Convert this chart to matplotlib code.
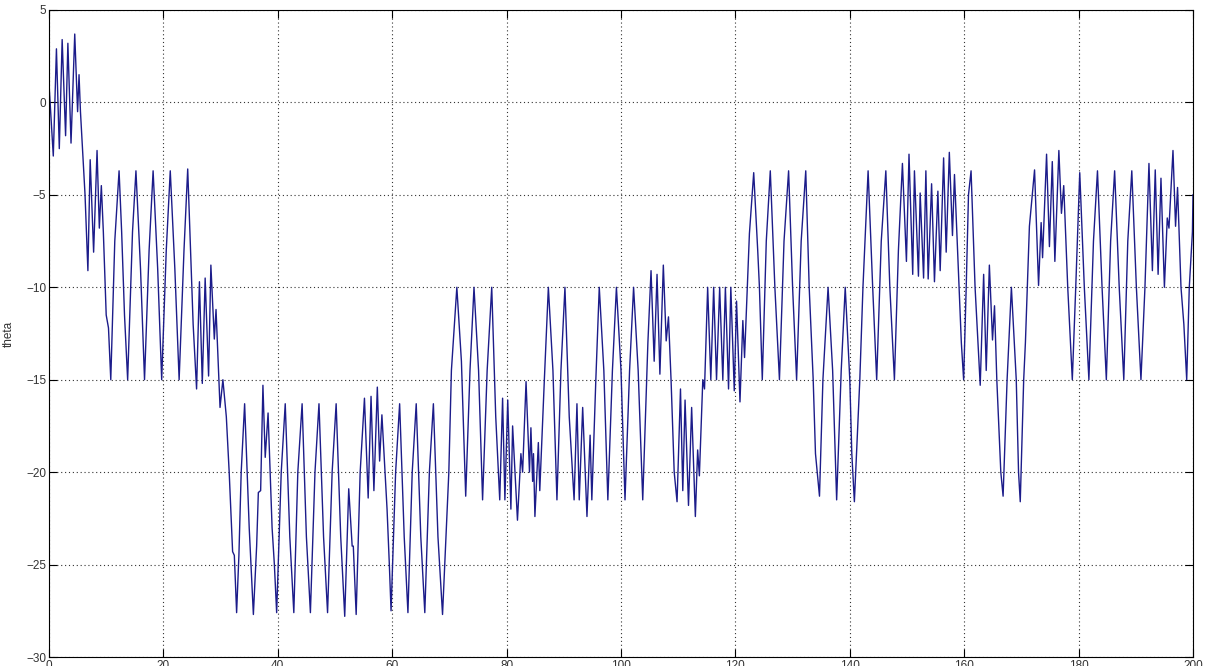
import matplotlib
matplotlib.use('Agg')
import matplotlib.pyplot as plt

# valores (vertices do sinal theta)
t = [0, 0.75, 1.3, 1.8, 2.3, 2.9, 3.3, 3.85, 4.5, 5.0, 5.25, 5.5, 6.3, 6.8, 7.2, 7.8, 8.4, 8.8, 9.15, 9.5,
     10.0, 10.4, 10.8, 11.5, 12.25, 12.7, 13.2, 13.75, 14.6, 15.2, 16.0, 16.7, 17.5, 18.2, 19.0, 19.7,
     20.5, 21.2, 22.0, 22.75, 23.6, 24.25, 25.2, 25.8, 26.3, 26.8, 27.3, 27.9, 28.3, 28.9, 29.2, 29.9,
     30.4, 31.0, 31.5, 32.1, 32.4, 32.8, 33.2, 33.6, 34.2,
     35.0, 35.73, 36.3, 36.6, 37.0, 37.4, 37.8, 38.3, 39.0, 39.4, 39.8, 40.6, 41.3, 42.1, 42.8, 43.5,
     44.25, 45.0, 45.7, 46.5, 47.2, 48.0, 48.7, 49.5, 50.2, 51.0, 51.7, 52.4, 53.0, 53.2, 53.7, 54.4,
     55.15, 55.8, 56.3, 56.8, 57.4, 57.8, 58.2, 59.1, 59.5, 59.8, 60.6, 61.3, 62.1, 62.75, 63.5, 64.2,
     65.0, 65.7, 66.5, 67.2, 68.0, 68.8, 69.9, 70.35, 71.3, 72.1, 72.85, 73.6, 74.3,
     75.1, 75.8, 76.6, 77.4, 78.1, 78.8, 79.3, 79.7, 80.2, 80.75, 81.05, 81.9, 82.5, 82.8, 83.4, 84.0,
     84.25, 84.55, 84.7, 84.95, 85.55, 85.8, 86.6, 87.3, 88.1, 88.8, 89.5, 90.2, 90.95, 91.8, 92.3,
     92.7, 93.3, 94.05, 94.6, 94.9, 95.6, 96.2, 97.0, 97.7, 98.5, 99.2, 100.0, 100.7, 101.5, 102.2,
     103.0, 103.8, 104.7, 105.25, 105.8, 106.3, 106.8, 107.4, 107.9, 108.3, 108.75, 109.3, 109.8,
     110.4, 110.8, 111.2, 111.8, 112.35, 113.0, 113.4, 113.7, 114.3, 114.6, 115.15, 115.7, 116.2,
     116.7, 117.25, 117.8, 118.25, 118.8, 119.2, 119.8, 120.2, 120.8, 121.3, 121.6, 122.45, 123.2,
     123.9, 124.2, 124.7, 125.4, 126.1, 126.9, 127.7, 128.5, 129.3, 130.0, 130.7, 131.5, 132.3, 132.9,
     133.6, 134.0, 134.7, 135.3, 136.2, 137.0, 137.7, 138.5, 139.2, 140.0, 140.35, 140.8, 141.75,
     142.3, 143.2, 144.0, 144.7, 145.5, 146.3, 147.0, 147.8, 148.5, 149.2, 149.9, 150.35, 151.0, 151.3,
     152.0, 152.3, 152.9, 153.3, 153.7, 154.3, 154.8, 155.4, 155.8, 156.4, 156.85, 157.4, 157.95,
     158.3, 159.1, 159.5, 159.9, 160.35, 160.75, 161.2, 161.9, 162.4, 162.8, 163.4, 163.85, 164.4,
     164.95, 165.3, 165.7, 166.4, 166.8, 167.5, 168.25, 169.1, 169.5, 169.8, 170.4, 170.7, 171.4,
     172.3, 173.0, 173.45, 173.7, 174.4, 174.9, 175.4, 175.85, 176.55, 177.0, 177.4, 178.1, 178.9,
     179.5, 180.2, 181.0, 181.8, 182.6, 183.3, 184.1, 184.85, 185.6, 186.3, 187.1, 187.9, 188.6, 189.3,
     190.1, 190.9, 191.6, 192.3, 192.9, 193.4, 193.9, 194.4, 195.0, 195.5, 195.8, 196.5, 196.95,
     197.3, 197.9, 198.4, 198.9, 199.35, 199.9, 200.0]

theta = [1.0, -2.9, 2.9, -2.5, 3.4, -1.8, 3.2, -2.2, 3.7, -0.5, 1.5, -0.5, -5, -9.1, -3.1, -8.1, -2.6, -6.8, -4.5, -7,
         -11.5, -12.2, -15, -7.5, -3.7, -7, -11.5, -15, -7, -3.7, -9, -15, -8, -3.7, -9, -15,
         -8, -3.7, -9, -15, -8, -3.6, -12, -15.5, -9.7, -15.2, -9.5, -14.8, -8.8, -12.8, -11.2, -16.5,
         -15, -17, -20, -24.3, -24.5, -27.6, -24.5, -20, -16.3,
         -23, -27.7, -24, -21.1, -21.0, -15.3, -19.2, -16.8, -23, -25, -27.6, -20, -16.3, -23.5, -27.6, -20,
         -16.3, -23.5, -27.6, -20, -16.3, -23.5, -27.6, -20, -16.3, -23.5, -27.8, -20.9, -24.0, -24, -27.7, -20,
         -16.0, -21.4, -15.9, -21.0, -15.4, -19.4, -16.9, -22, -25, -27.5, -20, -16.3, -23.5, -27.6, -20, -16.3,
         -23.5, -27.6, -20, -16.3, -23.5, -27.7, -20, -14.5, -10, -14, -21.3, -14.5, -10,
         -14.5, -21.5, -14.5, -10, -17, -21.5, -16, -21.5, -16.1, -22, -17.5, -22.6, -19, -20, -15.1, -20,
         -17.6, -20.5, -19, -22.4, -18.4, -21, -15, -10, -14.5, -21.5, -14.5, -10, -17, -21.5, -16.3,
         -21.5, -16.5, -22.4, -18, -21.5, -15, -10, -14.5, -21.5, -14.5, -10, -14.5, -21.5, -14.5, -10,
         -14.5, -21.5, -13, -9.1, -14, -9.3, -14.7, -8.8, -12.9, -11.6, -15, -20, -21.6,
         -15.5, -21, -16.1, -21.8, -16.5, -22.4, -18.8, -20.2, -15, -15.5, -10, -15, -10,
         -15, -10, -15, -10, -15.5, -10, -15.6, -10.75, -16.2, -11.8, -13.8, -7.1, -3.8,
         -8, -10, -15, -7.5, -3.7, -10, -15, -7.5, -3.7, -10, -15, -7.5, -3.7, -10,
         -15, -19, -21.3, -15, -10, -14.5, -21.5, -14.5, -10, -15, -19, -21.6, -15,
         -10, -3.7, -10, -15, -7.5, -3.7, -10, -15, -8, -3.3, -8.6, -2.8, -9.3, -3.7,
         -9.4, -4.9, -9.5, -3.7, -9.55, -4.4, -9.7, -4.8, -9.1, -3.0, -8.1, -2.7, -7.2,
         -3.9, -10, -13, -15, -10, -5, -3.7, -10, -13, -15.3, -9.3, -14.5, -8.8,
         -12.85, -11, -15, -20, -21.3, -15, -10, -15, -20, -21.6, -15, -13, -6.7,
         -3.65, -9.9, -6.5, -8.4, -2.8, -7.8, -3.2, -8.6, -2.6, -6, -4.5, -10, -15,
         -10, -3.8, -10, -15, -7.5, -3.7, -10, -15, -7.5, -3.7, -10, -15, -7.5, -3.7,
         -10, -15, -10, -3.3, -9.1, -3.65, -9.3, -4.1, -10, -6.25, -6.8, -2.6, -6.7,
         -4.6, -10, -12, -15, -10, -7, -5]

x_ticks = [0, 20, 40, 60, 80, 100, 120, 140, 160, 180, 200]
y_ticks = [-30, -25, -20, -15, -10, -5, 0, 5]

plt.rcParams['font.family'] = ['Liberation Sans', 'DejaVu Sans']

fig = plt.figure(figsize=(12.05, 6.66), dpi=100)
ax = fig.add_axes([49 / 1205, 1 - 657 / 666, (1193 - 49) / 1205, (657 - 10) / 666])
ax.plot(t, theta, color='#1c1c8a', linewidth=1.0)

ax.set_xlim(0, 200)
ax.set_ylim(-30, 5)
ax.set_xticks(x_ticks)
ax.set_yticks(y_ticks)
# grade pontilhada estilo MATLAB
ax.grid(True, linestyle=(0, (1, 2.5)), color='#333333', linewidth=0.8)
ax.tick_params(direction='in', length=6, width=0.8, labelsize=8.5, top=True, right=True, pad=2,
               labelcolor='#333333')
for s in ax.spines.values():
    s.set_linewidth(0.8)
ax.set_ylabel('theta', fontsize=8.5, labelpad=8, color='#333333')

plt.savefig('out.png', dpi=100)
